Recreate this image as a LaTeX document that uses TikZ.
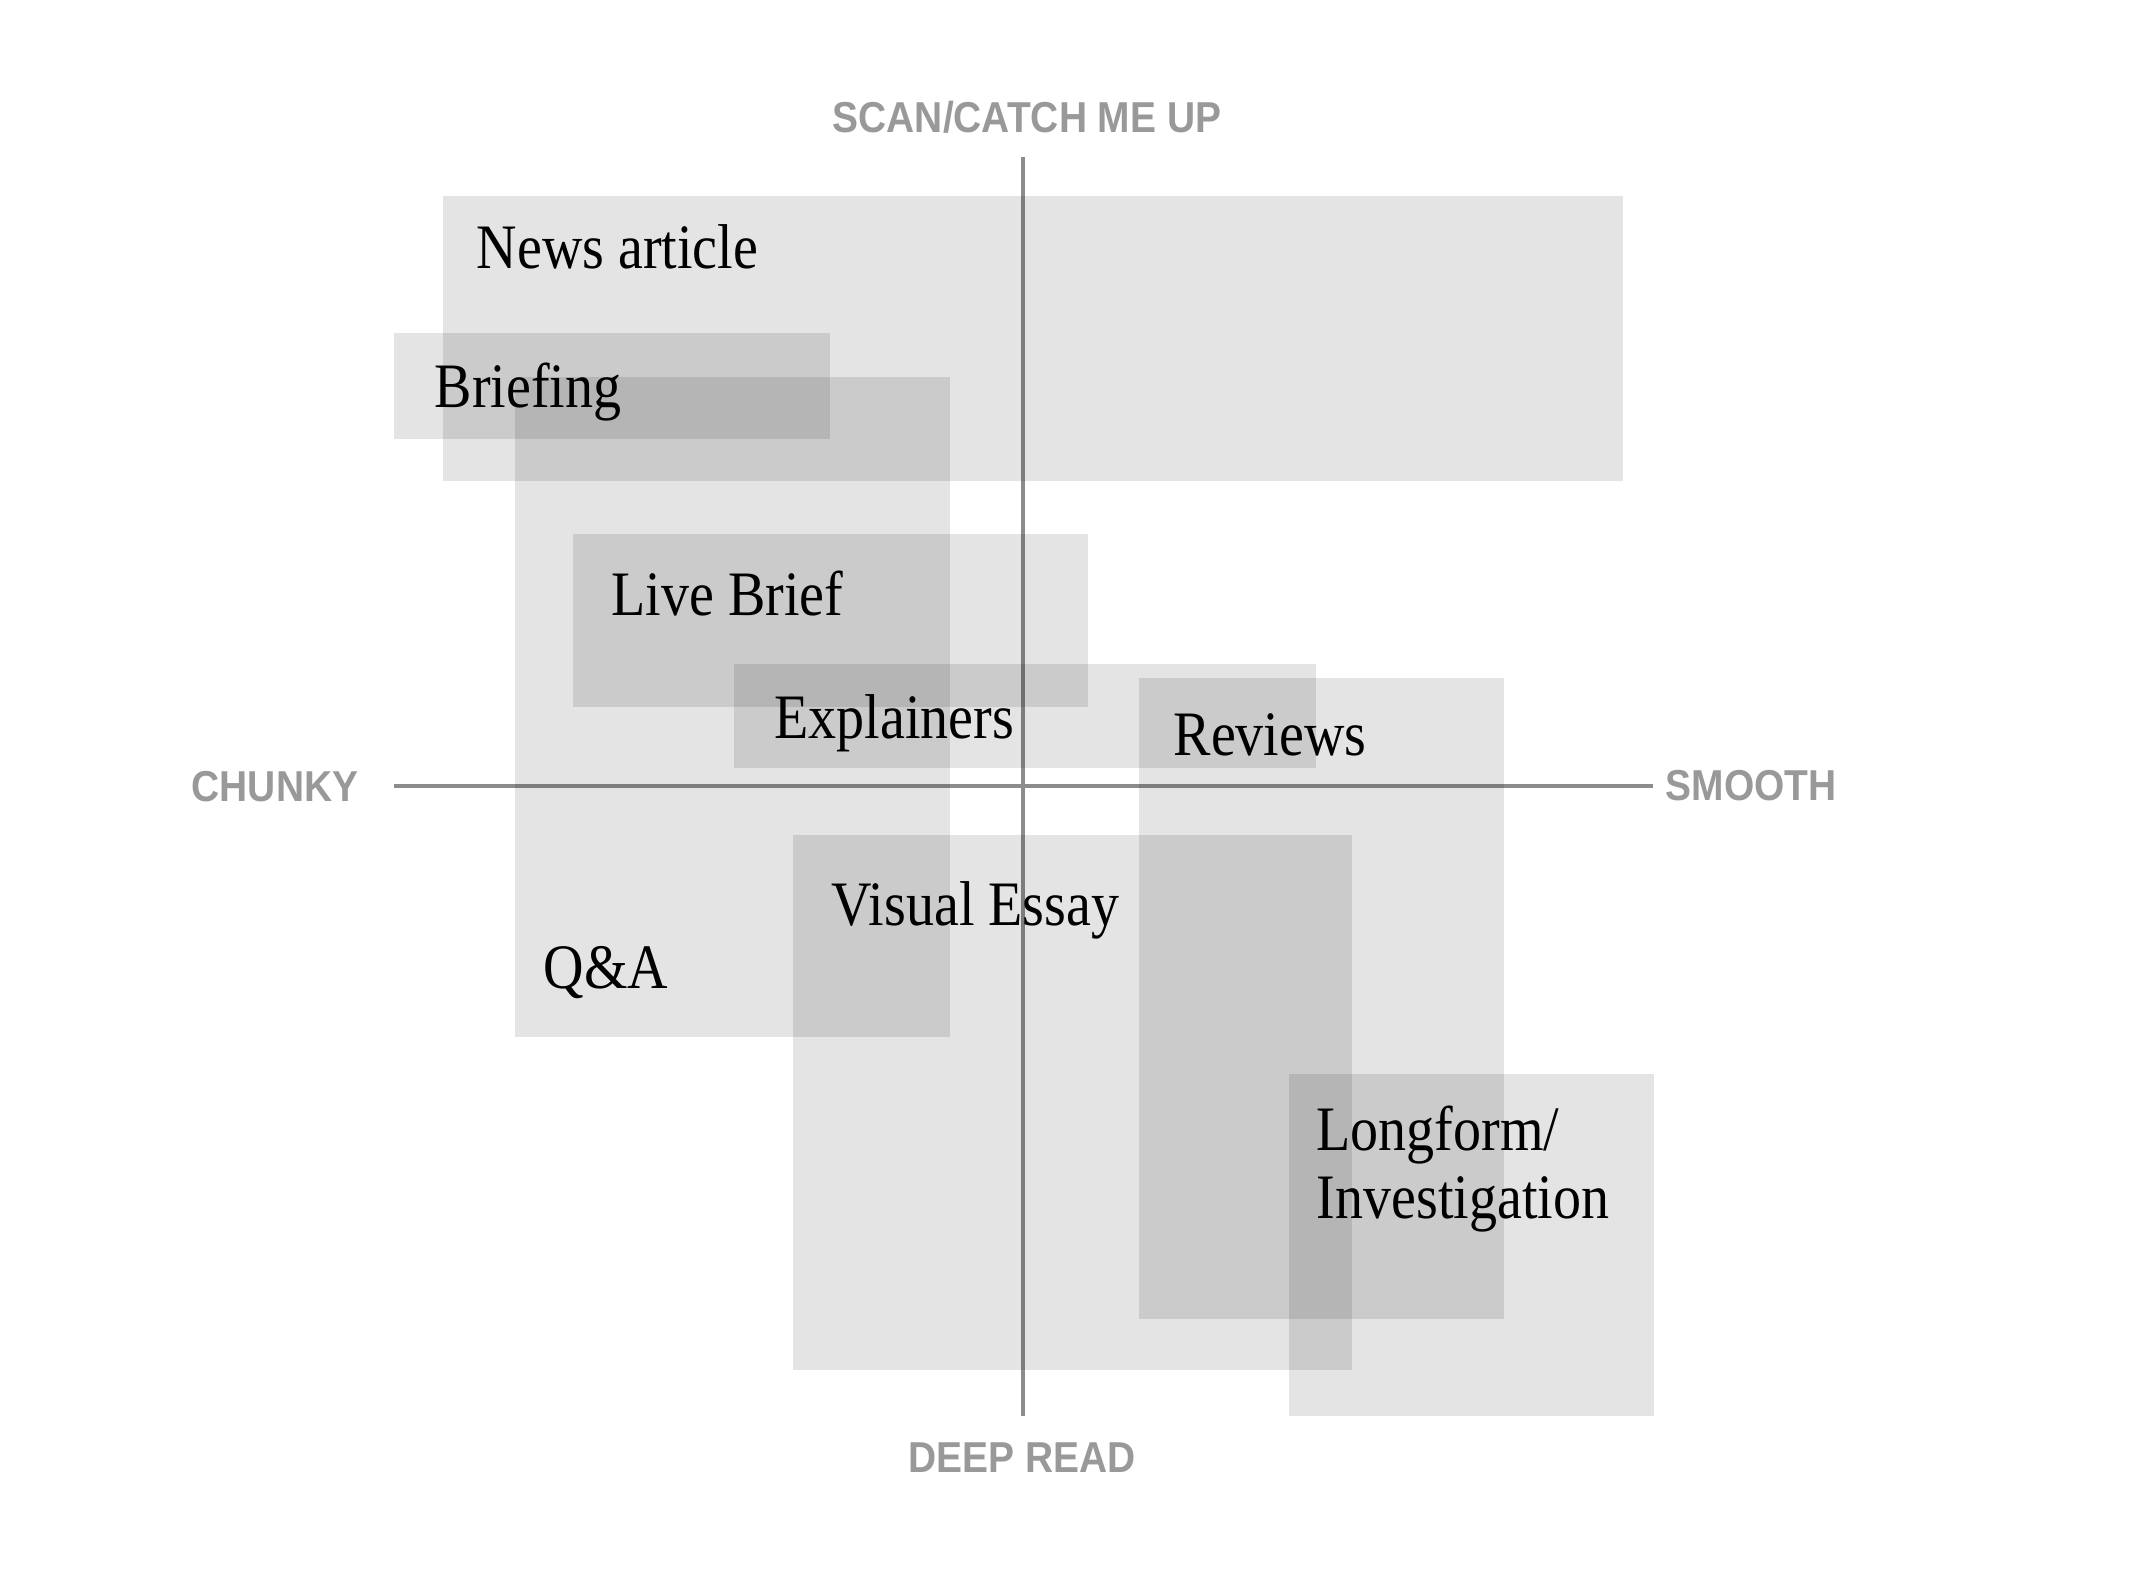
\documentclass[tikz,border=0pt]{standalone}
\usepackage{fontspec}
\setmainfont{Liberation Serif}[FakeStretch=0.885]
\newfontfamily\axisfont{Liberation Sans}[FakeStretch=0.9]
\begin{document}
\begin{tikzpicture}[x=0.01cm,y=-0.01cm,
  band/.style={fill=black,fill opacity=0.106,draw=none},
  axisline/.style={draw=black!45,line width=0.9pt},
  axislabel/.style={inner sep=0,text=black!40,font=\axisfont\bfseries\fontsize{12.3}{14}\selectfont},
  lab/.style={inner sep=0,anchor=base west,text=black,font=\fontsize{18}{22}\selectfont}]
\useasboundingbox[fill=white] (0,0) rectangle (2142,1568);
% axes
\coordinate (vt) at (1023,157);
\coordinate (vb) at (1023,1416);
\coordinate (hl) at (394,786);
\coordinate (hr) at (1653,786);
\draw[axisline] (vt) -- (vb);
\draw[axisline] (hl) -- (hr);
% bands
\path[band] (443,196) rectangle (1623,481);   % News article
\path[band] (394,333) rectangle (830,439);    % Briefing
\path[band] (515,377) rectangle (950,1037);   % Q&A
\path[band] (573,534) rectangle (1088,707);   % Live Brief
\path[band] (734,664) rectangle (1316,768);   % Explainers
\path[band] (1139,678) rectangle (1504,1319); % Reviews
\path[band] (793,835) rectangle (1352,1370);  % Visual Essay
\path[band] (1289,1074) rectangle (1654,1416);% Longform
% axis labels
\node[axislabel,anchor=base] (scan) at (1027,132) {SCAN/CATCH ME UP};
\node[axislabel,anchor=base] (deep) at (1022,1472) {DEEP READ};
\node[axislabel,anchor=base west] (chunky) at (191,801) {CHUNKY};
\node[axislabel,anchor=base west] (smooth) at (1665,800) {SMOOTH};
% labels
\node[lab] (news) at (476,268) {News article};
\node[lab] (brief) at (434,407) {Briefing};
\node[lab] (live) at (611,615) {Live Brief};
\node[lab] (expl) at (774,738) {Explainers};
\node[lab] (rev) at (1173,755) {Reviews};
\node[lab] (vis) at (831,925) {Visual Essay};
\node[lab] (qa) at (543,988) {Q\&A};
\node[lab] (long) at (1316,1150) {Longform/};
\node[lab] (inv) at (1316,1218) {Investigation};
\end{tikzpicture}
\end{document}
